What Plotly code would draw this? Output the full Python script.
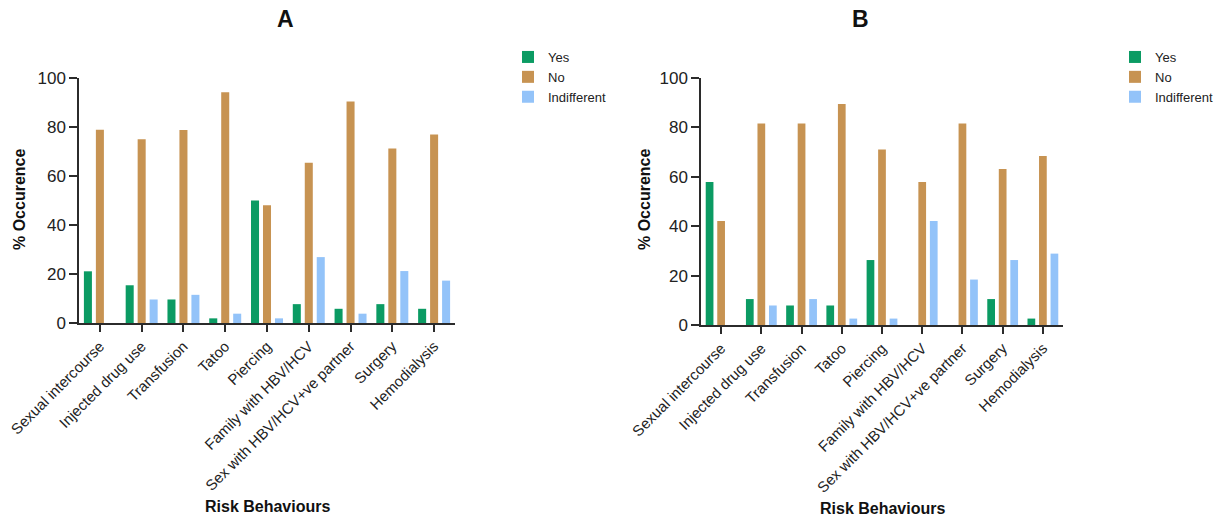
import plotly.graph_objects as go

categories = ["Sexual intercourse", "Injected drug use", "Transfusion", "Tatoo", "Piercing",
              "Family with HBV/HCV", "Sex with HBV/HCV+ve partner", "Surgery", "Hemodialysis"]

a_yes = [21.1, 15.4, 9.6, 1.9, 50.0, 7.7, 5.8, 7.7, 5.8]
a_no = [78.9, 75.0, 78.8, 94.2, 48.1, 65.4, 90.4, 71.2, 76.9]
a_ind = [0, 9.6, 11.5, 3.8, 1.9, 26.9, 3.8, 21.2, 17.3]

b_yes = [57.9, 10.5, 7.9, 7.9, 26.3, 0, 0, 10.5, 2.6]
b_no = [42.1, 81.6, 81.6, 89.5, 71.1, 57.9, 81.6, 63.2, 68.4]
b_ind = [0, 7.9, 10.5, 2.6, 2.6, 42.1, 18.4, 26.3, 28.9]

series_names = ["Yes", "No", "Indifferent"]
colors = ["#0b9b63", "#c79352", "#93c3f9"]

FONT = "Arial, Liberation Sans, sans-serif"
W, H = 1225, 520

fig = go.Figure()

panels = [
    (dict(yes=a_yes, no=a_no, ind=a_ind), "x", "y", "legend"),
    (dict(yes=b_yes, no=b_no, ind=b_ind), "x2", "y2", "legend2"),
]
for data, xa, ya, lg in panels:
    for name, vals, c in zip(series_names, [data["yes"], data["no"], data["ind"]], colors):
        fig.add_trace(go.Bar(
            x=categories, y=vals, name=name, marker=dict(color=c, line=dict(width=0)),
            xaxis=xa, yaxis=ya, legend=lg,
        ))

def px_x(p):
    return p / W

def px_y(p):
    return (H - p) / H

axis_common_x = dict(
    showline=True, linecolor="#2b2b2b", linewidth=1.5, ticks="outside", ticklen=7,
    tickcolor="#2b2b2b", tickwidth=1.5, tickangle=-45, tickfont=dict(family=FONT, size=15, color="#222"),
    showgrid=False, zeroline=False, automargin=False, range=[-0.5, 8.5],
)
axis_common_y = dict(
    showline=True, linecolor="#2b2b2b", linewidth=1.5, ticks="outside", ticklen=8,
    tickcolor="#2b2b2b", tickwidth=1.5, tickfont=dict(family=FONT, size=17, color="#222"),
    showgrid=False, zeroline=False, automargin=False, range=[0, 100], tickvals=[0, 20, 40, 60, 80, 100],
)

fig.update_layout(
    width=W, height=H,
    margin=dict(l=0, r=0, t=0, b=0),
    paper_bgcolor="white", plot_bgcolor="white",
    barmode="group", bargap=0.14, bargroupgap=0.33,
    xaxis=dict(domain=[px_x(79), px_x(455)], anchor="y", **axis_common_x),
    yaxis=dict(domain=[px_y(323), px_y(78)], anchor="x", **axis_common_y),
    xaxis2=dict(domain=[px_x(701), px_x(1063)], anchor="y2", **axis_common_x),
    yaxis2=dict(domain=[px_y(325), px_y(78)], anchor="x2", **axis_common_y),
    legend=dict(x=px_x(508), y=px_y(42), xanchor="left", yanchor="top", font=dict(family=FONT, size=13, color="#222"),
                bgcolor="rgba(0,0,0,0)", tracegroupgap=0, itemwidth=30),
    legend2=dict(x=px_x(1115), y=px_y(42), xanchor="left", yanchor="top", font=dict(family=FONT, size=13, color="#222"),
                 bgcolor="rgba(0,0,0,0)", tracegroupgap=0, itemwidth=30),
    showlegend=True,
)

ann = [
    dict(text="<b>A</b>", x=px_x(285), y=px_y(19), size=23),
    dict(text="<b>B</b>", x=px_x(860), y=px_y(19), size=23),
    dict(text="<b>Risk Behaviours</b>", x=px_x(267), y=px_y(506), size=16),
    dict(text="<b>Risk Behaviours</b>", x=px_x(882), y=px_y(508), size=16),
]
for a in ann:
    fig.add_annotation(text=a["text"], x=a["x"], y=a["y"], xref="paper", yref="paper",
                       showarrow=False, xanchor="center", yanchor="middle",
                       font=dict(family=FONT, size=a["size"], color="#111"))
for xx in [20, 645]:
    fig.add_annotation(text="<b>% Occurence</b>", x=px_x(xx), y=px_y(200), xref="paper", yref="paper",
                       showarrow=False, xanchor="center", yanchor="middle", textangle=-90,
                       font=dict(family=FONT, size=16, color="#111"))

fig.write_html("out.html", config={"displayModeBar": False},
               post_script="document.body.style.margin='0';document.body.style.overflow='hidden';")
